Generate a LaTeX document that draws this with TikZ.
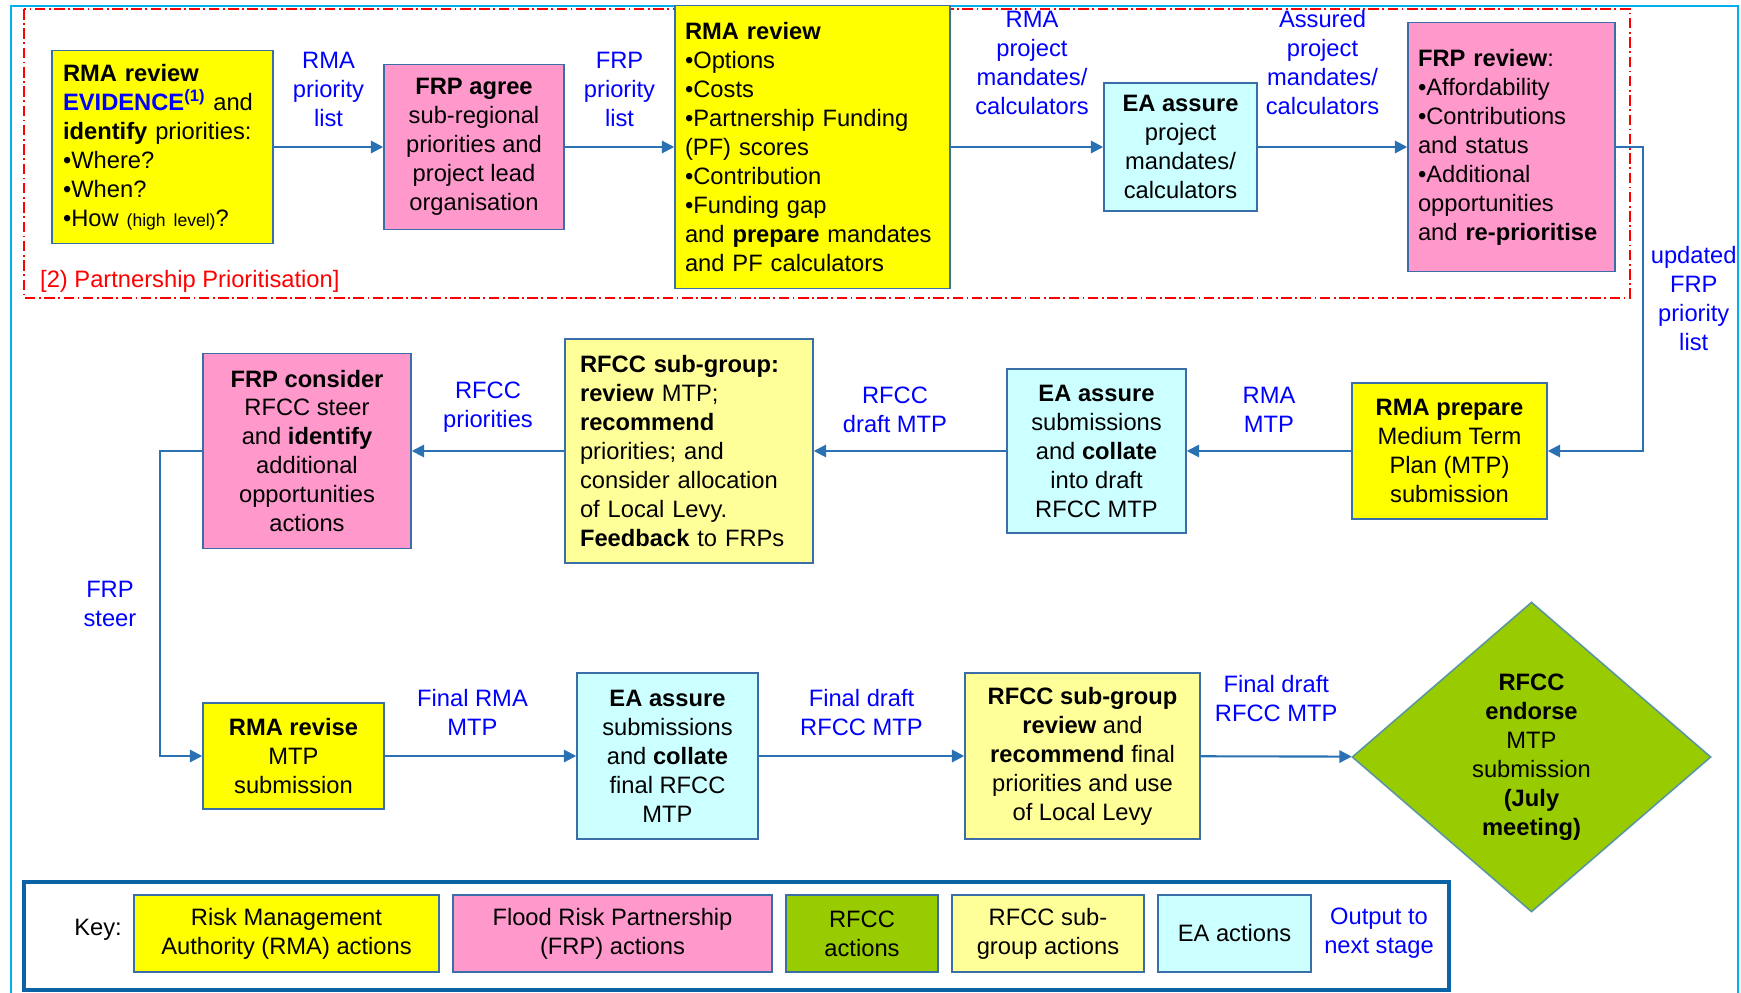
\documentclass[tikz,border=0pt]{standalone}
\usepackage{fontspec}
\setmainfont{Liberation Sans}
\usetikzlibrary{arrows.meta,shapes.geometric}
\definecolor{rmayel}{HTML}{FFFF00}
\definecolor{frppink}{HTML}{FF99CC}
\definecolor{rfccgreen}{HTML}{99CC00}
\definecolor{subyel}{HTML}{FFFF99}
\definecolor{eacyan}{HTML}{CCFFFF}
\definecolor{edgeblue}{HTML}{3A6EA8}
\definecolor{flowblue}{HTML}{2971B2}
\definecolor{lblblue}{HTML}{0000FF}
\definecolor{frameblue}{HTML}{00B0F0}
\definecolor{keyblue}{HTML}{0B62A4}
\definecolor{diaedge}{HTML}{5A96A0}
\newcommand{\txt}{\fontsize{13.5}{16.5}\selectfont}

\begin{document}
\begin{tikzpicture}[x=0.02cm, y=-0.02cm,
    box/.style={draw=edgeblue, line width=0.9pt, inner sep=0pt,
      align=center, font=\txt},
    lbl/.style={text=lblblue, align=center, inner sep=2pt, font=\txt}]
  \useasboundingbox (0,0) rectangle (1741,993);

  % frames
  \draw[frameblue, line width=1.2pt] (11,993) -- (11,6) -- (1738,6) -- (1738,993);
  \draw[red, line width=0.9pt, dash pattern=on 6pt off 2pt on 1pt off 2pt]
    (24,9) rectangle (1630,298);
  \node[anchor=west, text=red, font=\txt] (pp) at (34,281) {[2) Partnership Prioritisation]};
  \draw[keyblue, line width=2.6pt] (24,882) rectangle (1449,990);

  \begin{scope}[every node/.style={box}]
    % first row
    \node[fill=rmayel, minimum width=4.42cm, minimum height=3.86cm,
      text width=3.98cm, align=left] (rmaev) at (162.5,147)
      {\textbf{RMA review}\\
       \textcolor{lblblue}{\textbf{EVIDENCE}\textsuperscript{\textbf{(1)}}} and\\
       \textbf{identify} priorities:\\ •Where?\\ •When?\\
       •How {\fontsize{10}{12}\selectfont (high level)}?};
    \node[fill=frppink, minimum width=3.6cm, minimum height=3.3cm] (agree)
      at (474,147) {\textbf{FRP agree}\\ sub-regional\\ priorities and\\
      project lead\\ organisation};
    \node[fill=rmayel, minimum width=5.5cm, minimum height=5.66cm,
      text width=5.1cm, align=left] (rmarev) at (812.5,147)
      {\textbf{RMA review}\\ •Options\\ •Costs\\ •Partnership Funding\\
       (PF) scores\\ •Contribution\\ •Funding gap\\
       and \textbf{prepare} mandates\\ and PF calculators};
    \node[fill=eacyan, minimum width=3.06cm, minimum height=2.56cm] (eaproj)
      at (1180.5,147) {\textbf{EA assure}\\ project\\ mandates/\\ calculators};
    \node[fill=frppink, minimum width=4.14cm, minimum height=4.98cm,
      text width=3.74cm, align=left] (frprev) at (1511.5,147)
      {\textbf{FRP review}:\\ •Affordability\\ •Contributions\\ and status\\
       •Additional\\ opportunities\\ and \textbf{re-prioritise}};

    % second row
    \node[fill=rmayel, minimum width=3.9cm, minimum height=2.72cm] (rmaprep)
      at (1449.5,451) {\textbf{RMA prepare}\\ Medium Term\\ Plan (MTP)\\ submission};
    \node[fill=eacyan, minimum width=3.58cm, minimum height=3.28cm] (eadraft)
      at (1096.5,451) {\textbf{EA assure}\\ submissions\\ and \textbf{collate}\\
      into draft\\ RFCC MTP};
    \node[fill=subyel, minimum width=4.96cm, minimum height=4.48cm,
      text width=4.36cm, align=left] (subgrp) at (689,451)
      {\textbf{RFCC sub-group:}\\ \textbf{review} MTP;\\ \textbf{recommend}\\
       priorities; and\\ consider allocation\\ of Local Levy.\\
       \textbf{Feedback} to FRPs};
    \node[fill=frppink, minimum width=4.16cm, minimum height=3.9cm] (frpcons)
      at (307,451) {\textbf{FRP consider}\\ RFCC steer\\ and \textbf{identify}\\
      additional\\ opportunities\\ actions};

    % third row
    \node[fill=rmayel, minimum width=3.62cm, minimum height=2.12cm] (rmarevise)
      at (293.5,756) {\textbf{RMA revise}\\ MTP\\ submission};
    \node[fill=eacyan, minimum width=3.62cm, minimum height=3.32cm] (eafinal)
      at (667.5,756) {\textbf{EA assure}\\ submissions\\ and \textbf{collate}\\
      final RFCC\\ MTP};
    \node[fill=subyel, minimum width=4.7cm, minimum height=3.32cm] (subfinal)
      at (1082.5,756) {\textbf{RFCC sub-group}\\ \textbf{review} and\\
      \textbf{recommend} final\\ priorities and use\\ of Local Levy};
    \node[diamond, draw=diaedge, fill=rfccgreen, minimum width=7.18cm,
      minimum height=6.2cm] (endorse) at (1531.5,757)
      {\textbf{RFCC}\\ \textbf{endorse}\\ MTP\\ submission\\ \textbf{(July}\\
      \textbf{meeting)}};

    % key
    \node[fill=rmayel, minimum width=6.1cm, minimum height=1.54cm] (krma)
      at (286.5,933.5) {Risk Management\\ Authority (RMA) actions};
    \node[fill=frppink, minimum width=6.38cm, minimum height=1.54cm] (kfrp)
      at (612.5,933.5) {Flood Risk Partnership\\ (FRP) actions};
    \node[fill=rfccgreen, minimum width=3.04cm, minimum height=1.54cm] (krfcc)
      at (862,933.5) {RFCC\\ actions};
    \node[fill=subyel, minimum width=3.84cm, minimum height=1.54cm] (ksub)
      at (1048,933.5) {RFCC sub-\\ group actions};
    \node[fill=eacyan, minimum width=3.06cm, minimum height=1.54cm] (kea)
      at (1234.5,933.5) {EA actions};
  \end{scope}
  \node[font=\txt] (key) at (98,930) {Key:};
  \node[lbl] (kout) at (1379,933) {Output to\\ next stage};

  \begin{scope}[->, >={Triangle[length=7pt,width=7pt]}, flowblue, line width=1.2pt]
    \draw (rmaev) to node[lbl, above=9pt] {RMA\\ priority\\ list} (agree);
    \draw (agree) to node[lbl, above=9pt] {FRP\\ priority\\ list} (rmarev);
    \draw (rmarev) to node[lbl, above=16pt, xshift=0.1cm] {RMA\\ project\\ mandates/\\ calculators} (eaproj);
    \draw (eaproj) to node[lbl, above=16pt, xshift=-0.2cm] {Assured\\ project\\ mandates/\\ calculators} (frprev);
    \draw (frprev.east) -- ++(27,0) |- node[lbl, pos=0.25, right=2pt]
      {updated\\ FRP\\ priority\\ list} (rmaprep.east);

    \draw (rmaprep) to node[lbl, above=8pt] {RMA\\ MTP} (eadraft);
    \draw (eadraft) to node[lbl, above=8pt, xshift=-0.3cm] {RFCC\\ draft MTP} (subgrp);
    \draw (subgrp) to node[lbl, above=8pt] {RFCC\\ priorities} (frpcons);
    \draw (frpcons.west) -- ++(-42,0) |- node[lbl, pos=0.25, left=11pt]
      {FRP\\ steer} (rmarevise.west);

    \draw (rmarevise) to node[lbl, above=9pt, xshift=-0.16cm] {Final RMA\\ MTP} (eafinal);
    \draw (eafinal) to node[lbl, above=9pt] {Final draft\\ RFCC MTP} (subfinal);
    \draw (subfinal) to node[lbl, above=17pt] {Final draft\\ RFCC MTP} (endorse);
  \end{scope}
\end{tikzpicture}
\end{document}
